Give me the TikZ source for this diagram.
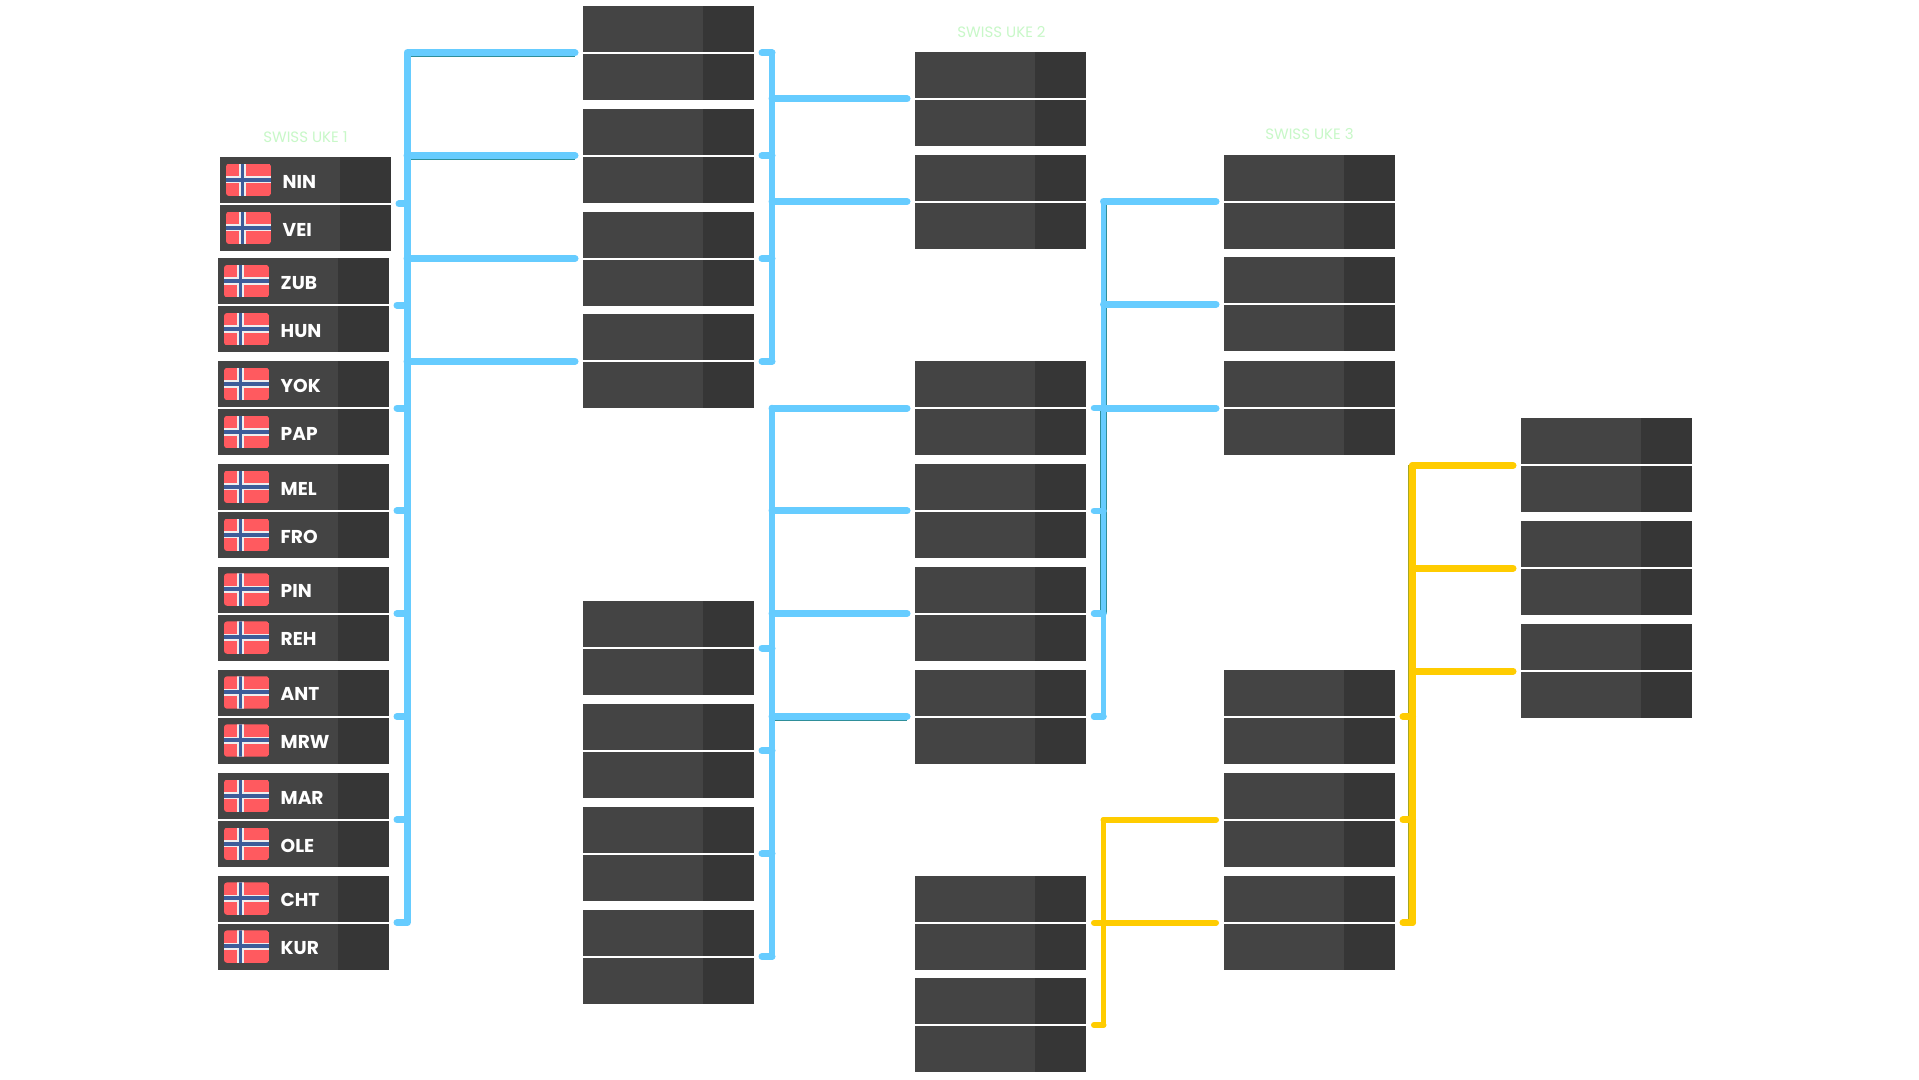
\documentclass[tikz,border=0pt]{standalone}
\usepackage{fontspec}
\setmainfont{Poppins}
\definecolor{celllight}{HTML}{444444}
\definecolor{celldark}{HTML}{363636}
\definecolor{wireblue}{HTML}{66CCFF}
\definecolor{wireyellow}{HTML}{FFCC00}
\definecolor{edgeblue}{HTML}{2F8F9A}
\definecolor{edgeyellow}{HTML}{A8A820}
\definecolor{flagred}{HTML}{FF5A5F}
\definecolor{flagnavy}{HTML}{3D5C99}
\definecolor{flagwhite}{HTML}{EEEEEE}
\definecolor{titlegreen}{HTML}{C8F8C8}
\tikzset{
  cellbox/.style={rectangle,fill=celllight,minimum width=171pt,minimum height=46pt,inner sep=0pt,outer sep=0pt,
    path picture={\fill[celldark] ([xshift=-51pt]path picture bounding box.south east) rectangle (path picture bounding box.north east);}},
  wire/.style={line width=7pt,line cap=round,line join=round},
  wireb/.style={wire,draw=wireblue},
  wirey/.style={wire,draw=wireyellow},
  wirespine/.style={line width=5.5pt,line cap=round,line join=round},
  edgeb/.style={draw=edgeblue,line width=0.9pt},
  edgey/.style={draw=edgeyellow,line width=0.9pt},
  teamlabel/.style={anchor=base west,inner sep=0pt,text=white,font=\fontsize{18.6}{20}\selectfont\bfseries},
  roundtitle/.style={text=titlegreen,font=\fontsize{15}{17}\selectfont,inner sep=0pt},
}
\newcommand\matchup[3]{%
  \node[cellbox] (#1-a) at (#2+85.5,#3+0.5-24) {};
  \node[cellbox] (#1-b) at (#2+85.5,#3+0.5+24) {};
  \coordinate (#1-in) at (#2-8,#3+0.5);
  \coordinate (#1-out) at (#2+179,#3+0.5);
}
\newcommand\teamrow[2]{%
  \begin{scope}[shift={(#1.west)}]
    \begin{scope}
      \clip[rounded corners=3pt] (6,-16.2) rectangle (51.3,16.2);
      \fill[flagred] (6,-16.2) rectangle (51.3,16.2);
      \fill[flagwhite] (6,-3.8) rectangle (51.3,3.5);
      \fill[flagwhite] (19,-16.2) rectangle (25.7,16.2);
      \fill[flagnavy] (6,-2.2) rectangle (51.3,1.8);
      \fill[flagnavy] (20.7,-16.2) rectangle (24,16.2);
    \end{scope}
  \end{scope}
  \node[teamlabel] (#1-name) at ([xshift=62.5pt,yshift=-8.3pt]#1.west) {#2};
}
\begin{document}
\begin{tikzpicture}[x=1pt,y=-1pt]
\useasboundingbox (0,0) rectangle (1919,1079);
\fill[white] (0,0) rectangle (1919,1079);
% titles
\node[roundtitle] (t1) at (305.5,137.5) {SWISS UKE 1};
\node[roundtitle] (t2) at (1001.5,32.5) {SWISS UKE 2};
\node[roundtitle] (t3) at (1309.5,134.5) {SWISS UKE 3};
% column 1
\matchup{ca}{220}{203.3}
\matchup{cb}{218}{304.7}
\matchup{cc}{218}{407.5}
\matchup{cd}{218}{510.3}
\matchup{ce}{218}{613.1}
\matchup{cf}{218}{716}
\matchup{cg}{218}{819.3}
\matchup{ch}{218}{922.1}
\foreach \m/\la/\lb in {ca/NIN/VEI,cb/ZUB/HUN,cc/YOK/PAP,cd/MEL/FRO,ce/PIN/REH,cf/ANT/MRW,cg/MAR/OLE,ch/CHT/KUR}{
  \teamrow{\m-a}{\la}
  \teamrow{\m-b}{\lb}
}
% column 2
\matchup{da}{583}{52.3}
\matchup{db}{583}{155.1}
\matchup{dc}{583}{258}
\matchup{dd}{583}{360.8}
\matchup{de}{583}{647.5}
\matchup{df}{583}{750.3}
\matchup{dg}{583}{853.1}
\matchup{dh}{583}{956}
% column 3
\matchup{ea}{915}{98.3}
\matchup{eb}{915}{201}
\matchup{ec}{915}{407.5}
\matchup{ed}{915}{510.3}
\matchup{ee}{915}{613.1}
\matchup{ef}{915}{716}
\matchup{eg}{915}{922.1}
\matchup{eh}{915}{1024.5}
% column 4
\matchup{fa}{1224}{201}
\matchup{fb}{1224}{303.8}
\matchup{fc}{1224}{407.5}
\matchup{fd}{1224}{716}
\matchup{fe}{1224}{819.3}
\matchup{ff}{1224}{922.1}
% column 5
\matchup{ga}{1521}{464.9}
\matchup{gb}{1521}{567.7}
\matchup{gc}{1521}{670.5}
% spines
\coordinate (sp1) at (407,0);
\coordinate (sp2) at (772,0);
\coordinate (sp3) at (1103.5,0);
\coordinate (sp4) at (1412.5,0);
% thin edge lines under the wires
\draw[edgeb] ([xshift=1pt,yshift=-3.7pt]sp1 |- da-in) -- ([yshift=-3.7pt]da-in);
\draw[edgeb] ([xshift=1pt,yshift=-3.7pt]sp1 |- db-in) -- ([yshift=-3.7pt]db-in);
\draw[edgeb] ([xshift=3.8pt,yshift=-3.7pt]sp1 |- db-in) -- ([xshift=3.8pt,yshift=-3pt]sp1 |- ca-out);
\draw[edgeb] ([yshift=-3.7pt]sp2 |- ef-in) -- ([yshift=-3.7pt]ef-in);
\draw[edgeb] ([xshift=3pt,yshift=-3.7pt]sp3 |- fa-in) -- ([xshift=3pt]sp3 |- ee-out);
\draw[edgeb] ([xshift=-3.2pt]sp3 |- fc-in) -- ([xshift=-3.2pt]sp3 |- ee-out);
\draw[edgey] ([xshift=-3.6pt]sp4 |- ga-in) -- ([xshift=-3.6pt]sp4 |- ff-out);
% group 1: column 1 to column 2
\draw[wireb] (da-in) -- (sp1 |- da-in) -- (sp1 |- ch-out) -- (ch-out);
\foreach \m in {db,dc,dd}{\draw[wireb] (\m-in) -- (sp1 |- \m-in);}
\foreach \m in {ca,cb,cc,cd,ce,cf,cg}{\draw[wireb] (\m-out) -- (sp1 |- \m-out);}
% group 2: upper column 2 to column 3
\draw[wireb,line width=6.5pt] (sp2 |- da-out) -- (sp2 |- dd-out);
\foreach \m in {da,db,dc,dd}{\draw[wireb] (\m-out) -- (sp2 |- \m-out);}
\foreach \m in {ea,eb}{\draw[wireb] (\m-in) -- (sp2 |- \m-in);}
% group 3: lower column 2 to column 3
\draw[wireb,line width=6.5pt] (sp2 |- ec-in) -- (sp2 |- dh-out);
\foreach \m in {ec,ed,ee,ef}{\draw[wireb] (\m-in) -- (sp2 |- \m-in);}
\foreach \m in {de,df,dg,dh}{\draw[wireb] (\m-out) -- (sp2 |- \m-out);}
% group 4: column 3 to upper column 4
\draw[wirespine,draw=wireblue] (sp3 |- fa-in) -- (sp3 |- ef-out);
\foreach \m in {fa,fb,fc}{\draw[wireb] (\m-in) -- (sp3 |- \m-in);}
\foreach \m in {ec,ed,ee,ef}{\draw[wireb,line width=6.5pt] (\m-out) -- (sp3 |- \m-out);}
% group 5: lower column 3 to lower column 4
\draw[wirespine,draw=wireyellow] (sp3 |- fe-in) -- (sp3 |- eh-out);
\foreach \m in {fe,ff}{\draw[wirey,line width=6pt] (\m-in) -- (sp3 |- \m-in);}
\foreach \m in {eg,eh}{\draw[wirey,line width=6pt] (\m-out) -- (sp3 |- \m-out);}
% group 6: column 4 to column 5
\draw[wirey,line width=6.5pt] (sp4 |- ga-in) -- (sp4 |- ff-out);
\foreach \m in {ga,gb,gc}{\draw[wirey] (\m-in) -- (sp4 |- \m-in);}
\foreach \m in {fd,fe,ff}{\draw[wirey] (\m-out) -- (sp4 |- \m-out);}
\end{tikzpicture}
\end{document}
